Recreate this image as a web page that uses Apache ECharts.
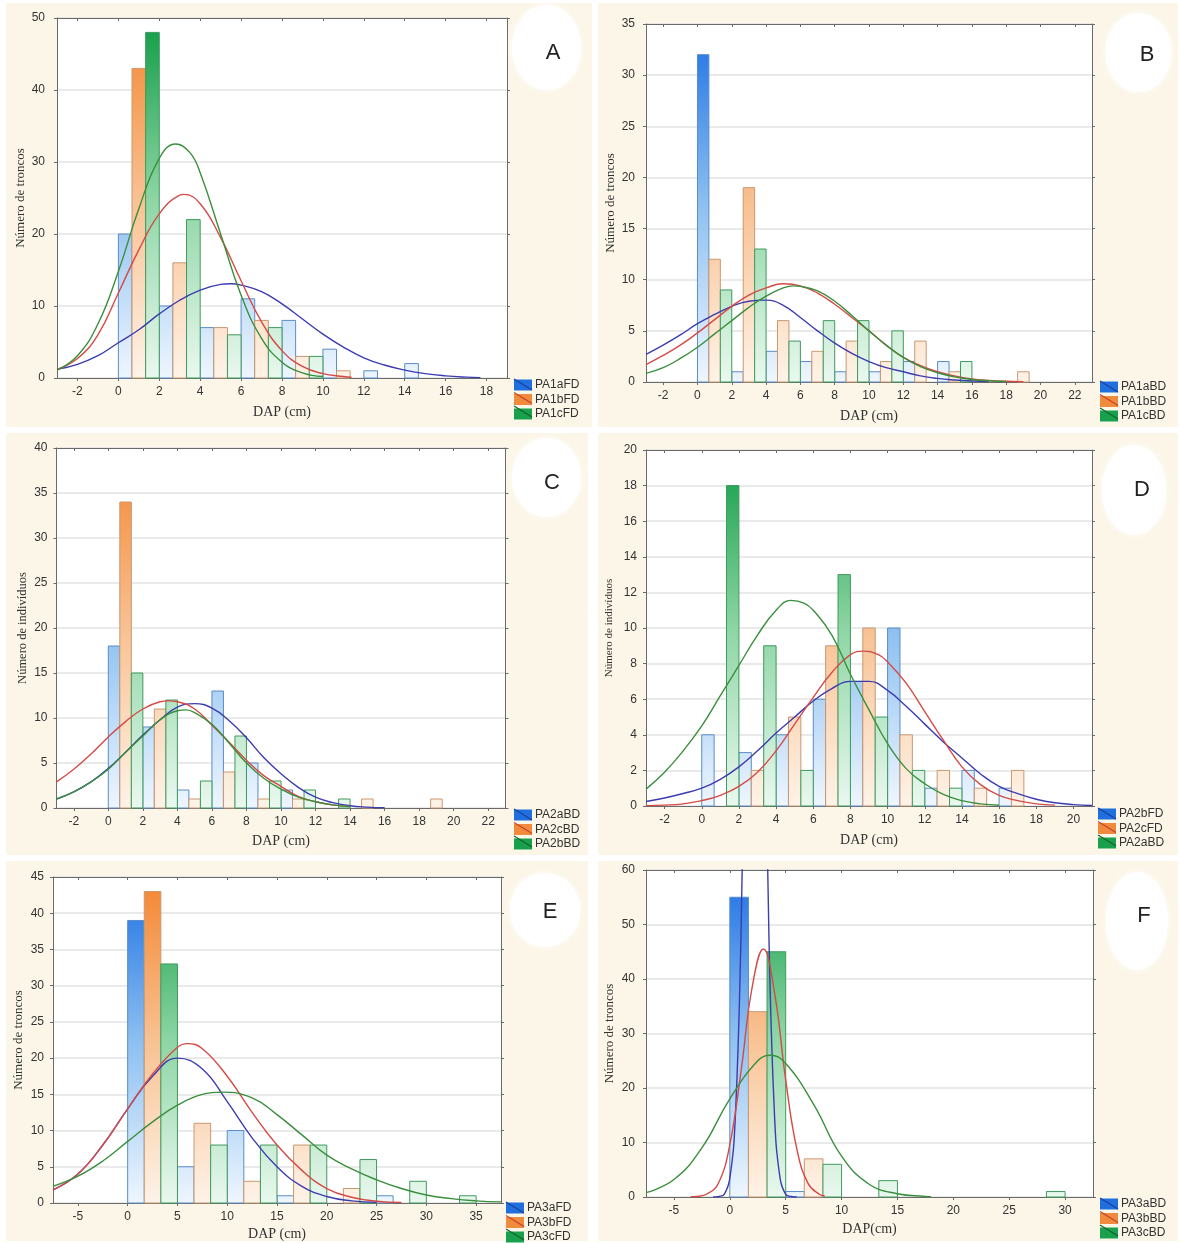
<!DOCTYPE html>
<html><head><meta charset="utf-8"><title>Distribución diamétrica (DAP)</title>
<script src="https://cdn.jsdelivr.net/npm/echarts@6.0.0/dist/echarts.min.js"></script>
<style>
html,body{margin:0;padding:0;background:#fff;}
#wrap{position:relative;width:1181px;height:1243px;overflow:hidden;}
.panel{position:absolute;background:#fcf6e8;}
#chart{position:absolute;left:0;top:0;width:1181px;height:1243px;}
</style></head><body>
<div id="wrap">
<div class="panel" style="left:6px;top:3px;width:586px;height:424px"></div>
<div class="panel" style="left:598px;top:3px;width:580px;height:424px"></div>
<div class="panel" style="left:6px;top:433px;width:582px;height:422px"></div>
<div class="panel" style="left:598px;top:433px;width:580px;height:422px"></div>
<div class="panel" style="left:6px;top:861px;width:582px;height:380px"></div>
<div class="panel" style="left:598px;top:861px;width:580px;height:380px"></div>
<div id="chart"></div>
</div>
<script>
// ================= DATA =================
// Panel A
const binsA = [0, 2, 4, 6, 8, 10, 12, 14];
const xTicksA = [-2, 0, 2, 4, 6, 8, 10, 12, 14, 16, 18];
const A_PA1aFD = [20, 10, 7, 11, 8, 4, 1, 2];
const A_PA1bFD = [43, 16, 7, 8, 3, 1, 0, 0];
const A_PA1cFD = [48, 22, 6, 7, 3, 0, 0, 0];
const curveA_PA1aFD = [[-3,1.2],[-2,1.9],[-1,3.1],[0,4.9],[1,6.7],[2,8.9],[3,10.8],[4,12.2],[5,13.0],[5.5,13.1],[6,12.9],[7,12.0],[8,10.3],[9,8.2],[10,6.1],[11,4.3],[12,2.8],[13,1.8],[14,1.1],[15,0.6],[16,0.3],[17,0.12],[17.7,0.05]];
const curveA_PA1bFD = [[-3,1.2],[-2,2.7],[-1,6.0],[0,11.8],[1,17.8],[2,22.8],[3,25.4],[3.2,25.5],[4,24.2],[5,19.5],[6,13.5],[7,7.8],[8,3.8],[9,1.6],[10,0.6],[11,0.2],[11.4,0.1]];
const curveA_PA1cFD = [[-3,1.1],[-2,3.1],[-1,7.5],[0,14.8],[1,23.5],[2,30.5],[2.8,32.5],[3.5,31.3],[4,28.5],[5,20],[6,11.5],[7,5.5],[8,2.2],[9,0.7],[10,0.2]];

// Panel B
const binsB = [0, 2, 4, 6, 8, 10, 12, 14, 16, 18];
const xTicksB = [-2, 0, 2, 4, 6, 8, 10, 12, 14, 16, 18, 20, 22];
const B_PA1aBD = [32, 1, 3, 2, 1, 1, 2, 2, 0, 0];
const B_PA1bBD = [12, 19, 6, 3, 4, 2, 4, 1, 0, 1];
const B_PA1cBD = [9, 13, 4, 6, 6, 5, 0, 2, 0, 0];
const curveB_PA1aBD = [[-3,2.7],[-2,3.6],[-1,4.6],[0,5.7],[1,6.6],[2,7.4],[3,7.9],[4,8.0],[5,7.5],[6,6.3],[7,5.0],[8,3.8],[9,2.8],[10,2.0],[11,1.4],[12,1.0],[13,0.6],[14,0.35],[15,0.2],[16,0.1],[17,0.05]];
const curveB_PA1bBD = [[-3,1.7],[-2,2.6],[-1,3.6],[0,4.8],[1,6.1],[2,7.4],[3,8.5],[4,9.2],[5,9.6],[6,9.4],[7,8.7],[8,7.6],[9,6.3],[10,5.0],[11,3.6],[12,2.4],[13,1.6],[14,1.0],[15,0.6],[16,0.3],[17,0.15],[18,0.07],[19,0.03]];
const curveB_PA1cBD = [[-3,0.85],[-2,1.4],[-1,2.3],[0,3.4],[1,4.7],[2,6.0],[3,7.3],[4,8.4],[5,9.2],[5.6,9.4],[6,9.35],[7,8.9],[8,7.9],[9,6.5],[10,5.0],[11,3.6],[12,2.4],[13,1.5],[14,0.9],[15,0.5],[16,0.25],[17,0.12],[18,0.05]];

// Panel C
const binsC = [0, 2, 4, 6, 8, 10, 12, 14, 16, 18];
const xTicksC = [-2, 0, 2, 4, 6, 8, 10, 12, 14, 16, 18, 20, 22];
const C_PA2aBD = [18, 9, 2, 13, 5, 2, 0, 0, 0, 0];
const C_PA2cBD = [34, 11, 1, 4, 1, 1, 0, 1, 0, 1];
const C_PA2bBD = [15, 12, 3, 8, 3, 2, 1, 0, 0, 0];
const curveC_PA2aBD = [[-3,1.0],[-2,1.8],[-1,2.9],[0,4.4],[1,6.2],[2,8.1],[3,9.8],[4,11.2],[5,11.6],[6,11.1],[7,9.7],[8,7.8],[9,5.6],[10,3.8],[11,2.3],[12,1.2],[13,0.6],[14,0.25],[15,0.1],[16,0.03]];
const curveC_PA2cBD = [[-3,2.9],[-2,4.3],[-1,6.0],[0,7.9],[1,9.6],[2,11.0],[3,11.8],[3.5,11.9],[4,11.8],[5,11.0],[6,9.2],[7,7.3],[8,5.3],[9,3.6],[10,2.4],[11,1.3],[12,0.7],[13,0.35],[14,0.15]];
const curveC_PA2bBD = [[-3,1.0],[-2,1.8],[-1,2.9],[0,4.3],[1,6.2],[2,8.0],[3,9.8],[4,10.8],[4.5,10.9],[5,10.6],[6,9.3],[7,7.2],[8,5.0],[9,3.3],[10,2.1],[11,1.2],[12,0.7],[13,0.35],[14,0.15]];

// Panel D
const binsD = [0, 2, 4, 6, 8, 10, 12, 14, 16];
const xTicksD = [-2, 0, 2, 4, 6, 8, 10, 12, 14, 16, 18, 20];
const D_PA2bFD = [4, 3, 4, 6, 7, 10, 1, 2, 1];
const D_PA2cFD = [0, 2, 5, 9, 10, 4, 2, 1, 2];
const D_PA2aBD = [18, 9, 2, 13, 5, 2, 1, 0, 0];
const curveD_PA2bFD = [[-3,0.25],[-2,0.45],[-1,0.7],[0,1.0],[1,1.5],[2,2.2],[3,3.1],[4,4.1],[5,5.0],[6,5.9],[7,6.6],[8,7.0],[9,7.0],[10,6.5],[11,5.6],[12,4.6],[13,3.6],[14,2.7],[15,1.8],[16,1.1],[17,0.7],[18,0.38],[19,0.18],[20,0.08],[21,0.03]];
const curveD_PA2cFD = [[-3,0.02],[-2,0.05],[-1,0.12],[0,0.3],[1,0.6],[2,1.1],[3,1.9],[4,3.1],[5,4.6],[6,6.1],[7,7.5],[8,8.5],[8.7,8.7],[9.5,8.5],[10,8.1],[11,6.9],[12,5.3],[13,3.7],[14,2.2],[15,1.2],[16,0.6],[17,0.3],[18,0.12],[19,0.05]];
const curveD_PA2aBD = [[-3,0.95],[-2,1.9],[-1,3.1],[0,4.5],[1,6.2],[2,7.9],[3,9.6],[4,11.0],[4.8,11.55],[5.5,11.4],[6,11.0],[7,9.6],[8,7.4],[9,5.4],[10,3.5],[11,2.1],[12,1.25],[13,0.65],[14,0.3],[15,0.12],[16,0.04]];

// Panel E
const binsE = [0, 5, 10, 15, 20, 25, 30];
const xTicksE = [-5, 0, 5, 10, 15, 20, 25, 30, 35];
const E_PA3aFD = [39, 5, 10, 1, 0, 1, 0];
const E_PA3bFD = [43, 11, 3, 8, 2, 0, 0];
const E_PA3cFD = [33, 8, 8, 8, 6, 3, 1];
const curveE_PA3aFD = [[-7.5,1.8],[-5,4],[-2.5,8],[0,13],[2.5,17.5],[5,20],[7.5,18.5],[10,14],[12.5,9],[15,5],[17.5,2.3],[20,0.9],[22.5,0.3],[25,0.1]];
const curveE_PA3bFD = [[-7.5,1.8],[-5,4],[-2.5,8],[0,13],[2.5,17.8],[5,21.5],[6,22],[7.5,21.3],[10,17.5],[12.5,12.5],[15,8],[17.5,4.5],[20,2],[22.5,0.8],[25,0.25],[27.5,0.08]];
const curveE_PA3cFD = [[-7.5,2.3],[-5,3.7],[-2.5,5.8],[0,8.5],[2.5,11.2],[5,13.5],[7.5,15],[9.5,15.3],[12.5,14.5],[15,12.2],[17.5,9.4],[20,6.6],[22.5,4.7],[25,3.2],[27.5,2.0],[30,1.1],[32.5,0.6],[35,0.3],[37.5,0.15]];

// Panel F
const binsF = [0, 5, 10, 15, 20, 25];
const xTicksF = [-5, 0, 5, 10, 15, 20, 25, 30];
const F_PA3aBD = [55, 1, 0, 0, 0, 0];
const F_PA3bBD = [34, 7, 0, 0, 0, 0];
const F_PA3cBD = [45, 6, 3, 0, 0, 1];
const curveF_PA3aBD = [[-1.5,0],[-1,0.1],[-0.5,0.5],[0,3.4],[0.5,15],[1,48],[1.5,104],[2.25,159],[3,104],[3.5,48],[4,15],[4.5,3.4],[5,0.5],[5.5,0.1],[6,0]];
const curveF_PA3bBD = [[-3.5,0.05],[-3,0.1],[-2,0.6],[-1,2.6],[0,9.6],[1,23],[2,38.5],[3,45.5],[4,37.5],[5,21.5],[6,8.8],[7,2.5],[8,0.5],[8.5,0.2]];
const curveF_PA3cBD = [[-7.5,0.8],[-5,3.2],[-2.5,9],[0,18],[2.5,25],[3.6,26],[5,24.5],[7.5,17],[10,7.5],[12.5,2.3],[15,0.6],[17.5,0.1],[18,0.05]];

// ================= STYLE =================
const SANS = "'Liberation Sans', Arial, sans-serif";
const SERIF = "'Liberation Serif', 'Times New Roman', serif";
const AXC = '#6a6a6a';
const PAL = {
  blue:   {stops:[[0,'#1b6fe3'],[0.5,'#8cbff0'],[1,'#eef6fe']], stroke:'#5a8cc6', line:'#3c3cb0', icon:'#1f70de', diag:'#1a3f9a'},
  orange: {stops:[[0,'#f4852f'],[0.5,'#f8c192'],[1,'#fef3e8']], stroke:'#c99872', line:'#d64a46', icon:'#f08a3c', diag:'#c8402e'},
  green:  {stops:[[0,'#0f9c45'],[0.5,'#8dd5a4'],[1,'#eaf8ef']], stroke:'#3f9a5d', line:'#3a8f3c', icon:'#19a04c', diag:'#14632e'}
};

const panels = [
  {grid:[57,18,450,360], xMin:-3, xMax:19, xTicks:xTicksA, yMax:50, yStep:10,
   yName:'Número de troncos', yNameSize:13, yNameGap:30, yLabelMargin:12, xName:'DAP (cm)', xNameGap:27,
   bins:binsA, binW:2, legend:[514,379],
   badge:{cx:546.5,cy:47.5,rx:34.5,ry:42.5,tx:553,ty:53,t:'A'},
   series:[['PA1aFD','blue',A_PA1aFD,curveA_PA1aFD],['PA1bFD','orange',A_PA1bFD,curveA_PA1bFD],['PA1cFD','green',A_PA1cFD,curveA_PA1cFD]]},
  {grid:[646,24,446,358], xMin:-3, xMax:23, xTicks:xTicksB, yMax:35, yStep:5,
   yName:'Número de troncos', yNameSize:13, yNameGap:29, yLabelMargin:11, xName:'DAP (cm)', xNameGap:27,
   bins:binsB, binW:2, legend:[1100,381],
   badge:{cx:1138.5,cy:52.5,rx:33,ry:39.5,tx:1147,ty:55,t:'B'},
   series:[['PA1aBD','blue',B_PA1aBD,curveB_PA1aBD],['PA1bBD','orange',B_PA1bBD,curveB_PA1bBD],['PA1cBD','green',B_PA1cBD,curveB_PA1cBD]]},
  {grid:[56.5,448,449,360], xMin:-3, xMax:23, xTicks:xTicksC, yMax:40, yStep:5,
   yName:'Número de indivíduos', yNameSize:12.5, yNameGap:27, yLabelMargin:9, xName:'DAP (cm)', xNameGap:26,
   bins:binsC, binW:2, legend:[514,809],
   badge:{cx:546.5,cy:477.5,rx:34.5,ry:39.5,tx:552,ty:483,t:'C'},
   series:[['PA2aBD','blue',C_PA2aBD,curveC_PA2aBD],['PA2cBD','orange',C_PA2cBD,curveC_PA2cBD],['PA2bBD','green',C_PA2bBD,curveC_PA2bBD]]},
  {grid:[646,450,446,356], xMin:-3, xMax:21, xTicks:xTicksD, yMax:20, yStep:2,
   yName:'Número de indivíduos', yNameSize:11, yNameGap:31, yLabelMargin:9, xName:'DAP (cm)', xNameGap:27,
   bins:binsD, binW:2, legend:[1098,808],
   badge:{cx:1134,cy:490,rx:32,ry:45,tx:1142,ty:490,t:'D'},
   series:[['PA2bFD','blue',D_PA2bFD,curveD_PA2bFD],['PA2cFD','orange',D_PA2cFD,curveD_PA2cFD],['PA2aBD','green',D_PA2aBD,curveD_PA2aBD]]},
  {grid:[53,877,448,326], xMin:-7.5, xMax:37.5, xTicks:xTicksE, yMax:45, yStep:5,
   yName:'Número de troncos', yNameSize:13, yNameGap:28, yLabelMargin:9, xName:'DAP (cm)', xNameGap:24,
   bins:binsE, binW:5, legend:[506,1202],
   badge:{cx:545,cy:910,rx:35,ry:37,tx:550,ty:912,t:'E'},
   series:[['PA3aFD','blue',E_PA3aFD,curveE_PA3aFD],['PA3bFD','orange',E_PA3bFD,curveE_PA3bFD],['PA3cFD','green',E_PA3cFD,curveE_PA3cFD]]},
  {grid:[646,870,447,327], xMin:-7.5, xMax:32.5, xTicks:xTicksF, yMax:60, yStep:10,
   yName:'Número de troncos', yNameSize:13, yNameGap:30, yLabelMargin:11, xName:'DAP(cm)', xNameGap:25,
   bins:binsF, binW:5, legend:[1100,1198],
   badge:{cx:1137,cy:921,rx:31,ry:49,tx:1144,ty:916,t:'F'},
   series:[['PA3aBD','blue',F_PA3aBD,curveF_PA3aBD],['PA3bBD','orange',F_PA3bBD,curveF_PA3bBD],['PA3cBD','green',F_PA3cBD,curveF_PA3cBD]]}
];

// ================= BUILD =================
function barRenderer(slot, binW, pal){
  const stops = pal.stops.map(s => ({offset:s[0], color:s[1]}));
  return function(params, api){
    const v = api.value(1);
    if (!v) return null;
    const start = api.value(0) + slot * binW / 3;
    const p0 = api.coord([start, v]);
    const p1 = api.coord([start + binW / 3, 0]);
    const cs = params.coordSys;
    return {
      type:'rect',
      shape:{x:p0[0], y:p0[1], width:p1[0]-p0[0], height:p1[1]-p0[1]},
      style:{fill:new echarts.graphic.LinearGradient(0, cs.y, 0, cs.y + cs.height, stops, true), stroke:pal.stroke, lineWidth:1}
    };
  };
}

const grids = [], xAxes = [], yAxes = [], series = [], legends = [], graphics = [];
const LEG = {iw:18, ih:11, gap:2.5};

panels.forEach((p, i) => {
  grids.push({left:p.grid[0], top:p.grid[1], width:p.grid[2], height:p.grid[3],
    show:true, backgroundColor:'#ffffff', borderWidth:0, containLabel:false, outerBoundsMode:'none'});
  xAxes.push({type:'value', gridIndex:i, position:'bottom', min:p.xMin, max:p.xMax,
    axisLine:{show:true, onZero:false, lineStyle:{color:AXC, width:1}},
    axisTick:{show:true, inside:false, length:3, customValues:p.xTicks, lineStyle:{color:AXC}},
    axisLabel:{show:true, customValues:p.xTicks, margin:8, color:'#333', fontSize:12, fontFamily:SANS},
    splitLine:{show:false},
    name:p.xName, nameLocation:'middle', nameGap:p.xNameGap, nameMoveOverlap:false,
    nameTextStyle:{fontFamily:SERIF, fontSize:14, color:'#333'}});
  xAxes.push({type:'value', gridIndex:i, position:'top', min:p.xMin, max:p.xMax,
    axisLine:{show:true, onZero:false, lineStyle:{color:AXC, width:1}},
    axisTick:{show:true, inside:true, length:3, customValues:p.xTicks, lineStyle:{color:AXC}},
    axisLabel:{show:false}, splitLine:{show:false}});
  yAxes.push({type:'value', gridIndex:i, position:'left', min:0, max:p.yMax, interval:p.yStep,
    axisLine:{show:true, onZero:false, lineStyle:{color:AXC, width:1}},
    axisTick:{show:true, length:3, lineStyle:{color:AXC}},
    axisLabel:{margin:p.yLabelMargin, color:'#333', fontSize:12, fontFamily:SANS},
    splitLine:{show:true, lineStyle:{color:'#e3e3e3', width:1.5}},
    name:p.yName, nameLocation:'middle', nameGap:p.yNameGap, nameMoveOverlap:false,
    nameTextStyle:{fontFamily:SERIF, fontSize:p.yNameSize, color:'#333'}});
  yAxes.push({type:'value', gridIndex:i, position:'right', min:0, max:p.yMax, interval:p.yStep,
    axisLine:{show:true, onZero:false, lineStyle:{color:AXC, width:1}},
    axisTick:{show:true, length:3, lineStyle:{color:AXC}},
    axisLabel:{show:false}, splitLine:{show:false}});

  p.series.forEach((s, k) => {
    const pal = PAL[s[1]];
    series.push({type:'custom', name:s[0], xAxisIndex:2*i, yAxisIndex:2*i, z:2, silent:true,
      data:p.bins.map((b, j) => [b, s[2][j]]), encode:{x:0, y:1},
      renderItem:barRenderer(k, p.binW, pal)});
  });
  p.series.forEach((s) => {
    const pal = PAL[s[1]];
    series.push({type:'line', name:s[0], xAxisIndex:2*i, yAxisIndex:2*i, z:3, silent:true,
      data:s[3], smooth:0.45, showSymbol:false, symbol:'none', clip:true,
      lineStyle:{color:pal.line, width:1.4}, itemStyle:{color:pal.line}});
  });

  legends.push({orient:'vertical', left:p.legend[0], top:p.legend[1], width:90, height:60, padding:0,
    itemWidth:LEG.iw, itemHeight:LEG.ih, itemGap:LEG.gap, selectedMode:false,
    textStyle:{fontSize:12, color:'#333', fontFamily:SANS, lineHeight:11, padding:[0,0,0,-2]},
    data:p.series.map(s => ({name:s[0], icon:'rect', itemStyle:{color:PAL[s[1]].icon, borderWidth:0}}))});

  // diagonal strokes of the legend keys
  p.series.forEach((s, k) => {
    const y0 = p.legend[1] + k * (LEG.ih + LEG.gap);
    graphics.push({type:'line', silent:true, z:100,
      shape:{x1:p.legend[0], y1:y0, x2:p.legend[0] + LEG.iw, y2:y0 + LEG.ih},
      style:{stroke:PAL[s[1]].diag, lineWidth:1.2}});
  });

  // panel letter badge
  const b = p.badge;
  graphics.push({type:'ellipse', silent:true, z:1,
    shape:{cx:b.cx, cy:b.cy, rx:b.rx, ry:b.ry},
    style:{fill:'#ffffff', shadowBlur:6, shadowColor:'rgba(255,255,255,0.9)'}});
  graphics.push({type:'text', silent:true, z:2, x:b.tx, y:b.ty,
    style:{text:b.t, fill:'#222', font:"22px 'Liberation Sans', Arial, sans-serif", textAlign:'center', textVerticalAlign:'middle'}});
});

const chart = echarts.init(document.getElementById('chart'), null, {renderer:'canvas'});
chart.setOption({
  backgroundColor:'transparent',
  animation:false,
  grid:grids, xAxis:xAxes, yAxis:yAxes, series:series, legend:legends,
  graphic:{elements:graphics}
});
</script>
</body></html>
